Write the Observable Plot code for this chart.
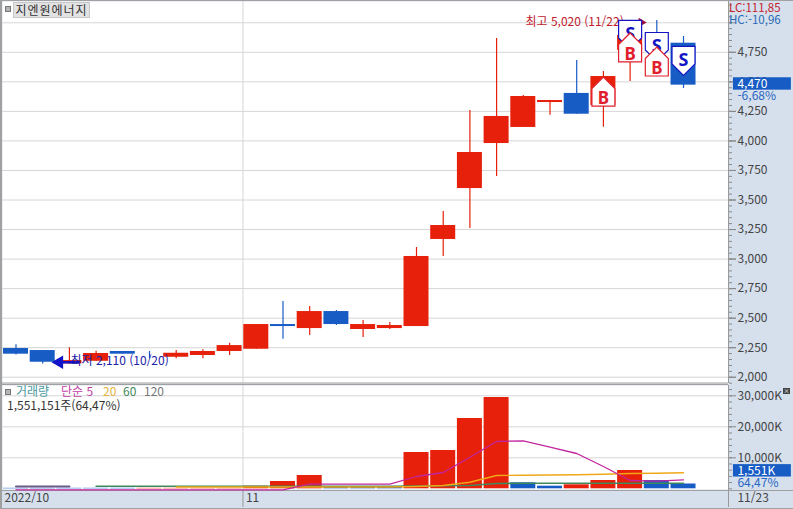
<!DOCTYPE html>
<html lang="ko">
<head>
<meta charset="utf-8">
<script src="https://cdn.jsdelivr.net/npm/d3@7"></script>
<script src="https://cdn.jsdelivr.net/npm/@observablehq/plot@0.6"></script>
<style>
  html, body { margin: 0; padding: 0; background: #fff; }
  #chart { position: relative; width: 793px; height: 509px; overflow: hidden; background: #d6e0ed;
           font-family: "Noto Sans CJK KR", "Noto Sans", sans-serif; font-size: 12px; color: #333; }
  #chart svg { display: block; }
  #frame { position: absolute; inset: 0; box-sizing: border-box; pointer-events: none;
           border-left: 2px solid #a0a0a0; border-top: 1px solid #a0a0a0; border-bottom: 1px solid #a0a0a0; }
  .lab { position: absolute; white-space: nowrap; line-height: 14px; }
  .lc { line-height: 12px; font-size: 11.5px; }
  #title { left: 13px; top: 2px; width: 75px; height: 14px; background: #e2e2e2; border: 1px solid #c8c8c8;
           text-align: center; color: #333; letter-spacing: 1px; line-height: 14px; }
  .icon { position: absolute; width: 4px; height: 4px; background: #b4b4b4; border: 1px solid #777; }
  #close { position: absolute; left: 783px; top: 388px; width: 7px; height: 6px; background: #444; color: #fff;
           font-size: 6px; line-height: 6px; text-align: center; }
</style>
</head>
<body>
<div id="chart"></div>
<script>
const titleText = "지엔원에너지";
const bodyTop    = [2243,2226,2141,2201,2218,2185,2203,2218,2268,2446,2446,2556,2556,2446,2438,3022,3284,3902,4207,4376,4342,4402,4545,4893,4782,4827];
const bodyBottom = [2195,2127,2113,2135,2195,2185,2169,2184,2218,2237,2429,2412,2446,2404,2412,2429,3166,3597,3978,4114,4325,4226,4300,4766,4782,4472];
const highs      = [2274,2226,2249,2220,2218,2218,2226,2232,2288,2446,2641,2598,2565,2480,2463,3098,3403,4258,4867,4385,4342,4681,4588,5020,5020,4884];
const lows       = [2188,2113,2110,2135,2195,2158,2156,2156,2184,2237,2322,2353,2438,2336,2404,2429,3022,3259,3699,4114,4218,4226,4116,4503,4782,4444];
const candleUp   = [0,0,1,1,0,0,1,1,1,1,0,1,0,1,1,1,1,1,1,1,1,0,1,1,0,0];

const volumes    = [150,150,150,150,150,150,150,150,150,839,2355,4290,516,516,516,11710,12355,22680,29450,1936,839,1290,2678,5903,2678,1551];
const volumeUp   = [0,0,0,0,0,1,1,1,1,1,1,1,0,0,0,1,1,1,1,0,0,1,1,1,0,0];
const ma5  = [-350,-350,-350,-350,-350,-350,-350,-350,-350,-350,-350,1480,1480,1480,1480,3968,5258,10194,15259,15485,13420,11388,7194,2678,2452,2903];
const ma20 = [null,null,null,null,null,null,581,581,581,581,581,581,581,581,581,742,1065,2130,4290,4387,4452,4516,4710,4936,5033,5162];
const ma60 = [null,null,null,839,839,839,839,839,839,839,839,839,839,839,839,871,968,1065,1710,1774,1774,1790,1790,1800,1807,1807];
const maEarly = [775,775,775];

const buySignals  = [{i:22, price:4418},{i:23, price:4791},{i:24, price:4672}];
const sellSignals = [{i:23, price:4897},{i:24, price:4795},{i:25, price:4677}];

const priceGrid = d3.range(2000, 5001, 250);
const priceLabelled = d3.range(2000, 4751, 250);
const priceMinor = d3.range(1950, 5181, 50);
const volMajor = [10000, 20000, 30000];
const volMinor = d3.range(0, 33001, 2000);
const monthBoundary = 8.5;

const legendItems = ["거래량", "단순 5", "20", "60", "120"];
const legendColors = ["#4a9a9e", "#c23da6", "#e3b33a", "#3f8a5c", "#777"];
const legendLeft = [16, 61, 103, 123, 144];

const RED = "#e6200a", BLUE = "#175bc5", GRID = "#d6d6d6", TICK = "#8a8a8a", AXTEXT = "#444";
const SELLC = "#1414c4", BUYC = "#e0202c";

const index = d3.range(bodyTop.length);
const candles = index.map(i => ({i, top: bodyTop[i], bottom: bodyBottom[i], high: highs[i], low: lows[i], up: !!candleUp[i]}));
const vols = index.map(i => ({i, v: volumes[i], up: !!volumeUp[i]}));
const series = arr => index.map(i => ({i, v: arr[i]})).filter(d => d.v != null);

const halfBar = 0.468;
const xDomain = [-0.5056, 26.685];
const rightEdge = 26.685;
const xCommon = {type: "linear", domain: xDomain, axis: null};
const common = {width: 793, marginLeft: 2, marginRight: 65,
  style: {background: "transparent", fontFamily: '"Noto Sans CJK KR","Noto Sans",sans-serif', fontSize: "12px"}};

// house shaped trade markers, scaled from the dot's size
const houseUp = {draw(c, size) {
  const s = Math.sqrt(size / Math.PI) / 10, w = 11.5 * s, h = 14.5 * s, sh = 11.5 * s;
  c.moveTo(0, -h); c.lineTo(w, -h + sh); c.lineTo(w, h); c.lineTo(-w, h); c.lineTo(-w, -h + sh); c.closePath();
}};
const houseDown = {draw(c, size) {
  const s = Math.sqrt(size / Math.PI) / 10, w = 11.5 * s, h = 14.5 * s, sh = 11.5 * s;
  c.moveTo(0, h); c.lineTo(w, h - sh); c.lineTo(w, -h); c.lineTo(-w, -h); c.lineTo(-w, h - sh); c.closePath();
}};

const tagX1 = 26.87, tagX2 = 29.04, tagTextX = 27.02;
const priceTagLevel = 4482, volumeTagLevel = 5800, volumeRatioLevel = 1720;

const upper = Plot.plot({
  ...common, height: 384, marginTop: 1, marginBottom: 1,
  x: xCommon,
  y: {domain: [1947, 5180], axis: null},
  marks: [
    Plot.frame({fill: "#fff"}),
    Plot.gridY(priceGrid, {stroke: GRID, strokeOpacity: 1}),
    Plot.ruleX([monthBoundary], {stroke: GRID, strokeWidth: 1}),
    Plot.axisY({anchor: "right", ticks: priceMinor, tickSize: 3, tickFormat: () => "", stroke: TICK, label: null}),
    Plot.axisY({anchor: "right", ticks: priceGrid, tickSize: 7, tickFormat: () => "", stroke: TICK, label: null}),
    Plot.axisY({anchor: "right", ticks: priceLabelled, tickSize: 7, tickPadding: 2, tickFormat: d3.format(","), stroke: TICK, fill: AXTEXT, fontSize: 12, label: null}),
    Plot.ruleX([rightEdge], {stroke: "#999"}),
    Plot.ruleY([1947], {x1: xDomain[0], x2: rightEdge, stroke: "#a0a0a0", dy: -0.5}),
    Plot.ruleX(candles, {x: "i", y1: "low", y2: "high", stroke: d => d.up ? RED : BLUE, strokeWidth: 1.2}),
    Plot.rect(candles, {x1: d => d.i - halfBar, x2: d => d.i + halfBar, y1: "bottom", y2: "top", fill: d => d.up ? RED : BLUE}),
    Plot.ruleY([2110], {x1: 1.6, x2: 2.4, dy: -2, stroke: "#1212c8", strokeWidth: 2.5}),
    Plot.dot([0], {x: 1.62, y: 2110, dy: -2, symbol: "triangle", rotate: -90, r: 5, fill: "#1212c8", stroke: "none"}),
    Plot.text(["최저 2,110 (10/20)"], {x: 2.04, y: 2110, dy: -3, text: d => d, textAnchor: "start", fill: "#2222a8", fontSize: 12}),
    Plot.text(["최고 5,020 (11/22)"], {x: 19.08, y: 5020, dy: 2, text: d => d, textAnchor: "start", fill: "#c0202c", fontSize: 12}),
    Plot.dot([0], {x: 23.42, y: 5020, dy: 2, symbol: "triangle", rotate: 90, r: 3.5, fill: "#a01038", stroke: "none"}),
    Plot.dot(sellSignals, {x: "i", y: "price", symbol: houseDown, r: 10, fill: "#fff", stroke: SELLC, strokeWidth: 1.2}),
    Plot.text(sellSignals, {x: "i", y: "price", text: () => "S", dy: -1, fill: SELLC, fontSize: 18, fontWeight: "bold", fontFamily: "Noto Sans"}),
    Plot.dot(buySignals, {x: "i", y: "price", symbol: houseUp, r: 10, fill: "#fff", stroke: BUYC, strokeWidth: 1.2}),
    Plot.text(buySignals, {x: "i", y: "price", text: () => "B", dy: 7, fill: BUYC, fontSize: 17, fontWeight: "bold", fontFamily: "Noto Sans"}),
    Plot.rect([priceTagLevel], {x1: tagX1, x2: tagX2, y1: d => d, y2: d => d, insetTop: -6.2, insetBottom: -6.2, fill: BLUE}),
    Plot.text(["4,470"], {x: tagTextX, y: priceTagLevel, text: d => d, textAnchor: "start", fill: "#fff", fontSize: 12}),
    Plot.text(["-6,68%"], {x: tagTextX, y: priceTagLevel, dy: 12, text: d => d, textAnchor: "start", fill: "#2a66c4", fontSize: 12})
  ]
});

const lower = Plot.plot({
  ...common, height: 125, marginTop: 1, marginBottom: 20,
  x: xCommon,
  y: {domain: [-226, 33325], axis: null},
  marks: [
    Plot.frame({fill: "#fff"}),
    Plot.gridY(volMajor, {stroke: GRID, strokeOpacity: 1}),
    Plot.ruleX([monthBoundary], {y1: -226, y2: 33325, stroke: GRID}),
    Plot.axisX({ticks: [monthBoundary, rightEdge], tickSize: 18, tickFormat: () => "", stroke: "#999", label: null}),
    Plot.ruleX([rightEdge], {y1: -226, y2: 33325, stroke: "#999"}),
    Plot.ruleY([33325], {x1: xDomain[0], x2: rightEdge, stroke: "#a0a0a0", dy: -1}),
    Plot.ruleY([-226], {x1: xDomain[0], x2: 30, stroke: "#a0a0a0", dy: 1}),
    Plot.axisY({anchor: "right", ticks: volMinor, tickSize: 3, tickFormat: () => "", stroke: TICK, label: null}),
    Plot.axisY({anchor: "right", ticks: volMajor, tickSize: 7, tickPadding: 2, tickFormat: d => d3.format(",")(d) + "K", stroke: TICK, fill: AXTEXT, fontSize: 12, label: null}),
    Plot.rect(vols, {x1: d => d.i - halfBar, x2: d => d.i + halfBar, y1: 0, y2: "v", fill: d => d.up ? RED : BLUE}),
    Plot.line(series(maEarly), {x: "i", y: "v", stroke: "#6a5a88", strokeWidth: 2}),
    Plot.line(series(ma60), {x: "i", y: "v", stroke: "#3f8a5c", strokeWidth: 1.6}),
    Plot.line(series(ma20), {x: "i", y: "v", stroke: "#f0a818", strokeWidth: 1.4}),
    Plot.line(series(ma5), {x: "i", y: "v", stroke: "#c2259e", strokeWidth: 1.3, curve: "linear"}),
    Plot.rect([volumeTagLevel], {x1: tagX1, x2: tagX2, y1: d => d, y2: d => d, insetTop: -6.2, insetBottom: -6.2, fill: BLUE}),
    Plot.text(["1,551K"], {x: tagTextX, y: volumeTagLevel, text: d => d, textAnchor: "start", fill: "#fff", fontSize: 12}),
    Plot.text(["64,47%"], {x: tagTextX, y: volumeRatioLevel, text: d => d, textAnchor: "start", fill: "#2a66c4", fontSize: 12}),
    Plot.text(["2022/10"], {x: xDomain[0], frameAnchor: "bottom", dy: 12, dx: 2, text: d => d, textAnchor: "start", fill: AXTEXT, fontSize: 12}),
    Plot.text(["11"], {x: monthBoundary, frameAnchor: "bottom", dy: 12, dx: 3, text: d => d, textAnchor: "start", fill: AXTEXT, fontSize: 12}),
    Plot.text(["11/23"], {x: tagTextX, frameAnchor: "bottom", dy: 12, text: d => d, textAnchor: "start", fill: AXTEXT, fontSize: 12})
  ]
});

const root = document.getElementById("chart");
root.append(upper, lower);

function label(text, left, top, color, id) {
  const el = document.createElement("div");
  el.className = "lab";
  el.textContent = text;
  el.style.left = left + "px";
  el.style.top = top + "px";
  if (color) el.style.color = color;
  if (id) el.id = id;
  root.append(el);
  return el;
}
function icon(left, top) {
  const el = document.createElement("div");
  el.className = "icon";
  el.style.left = left + "px";
  el.style.top = top + "px";
  root.append(el);
}
icon(5, 6);
label(titleText, 13, 2, null, "title");
label("LC:111,85", 729, 1, "#c4202c").classList.add("lc");
label("HC:-10,96", 729, 13, "#2a6ab4").classList.add("lc");
icon(5, 389);
legendItems.forEach((t, k) => label(t, legendLeft[k], 384, legendColors[k]));
label("1,551,151주(64,47%)", 7, 398, "#333");
const closeBox = document.createElement("div");
closeBox.id = "close";
closeBox.textContent = "×";
root.append(closeBox);
const frame = document.createElement("div");
frame.id = "frame";
root.append(frame);
</script>
</body>
</html>
